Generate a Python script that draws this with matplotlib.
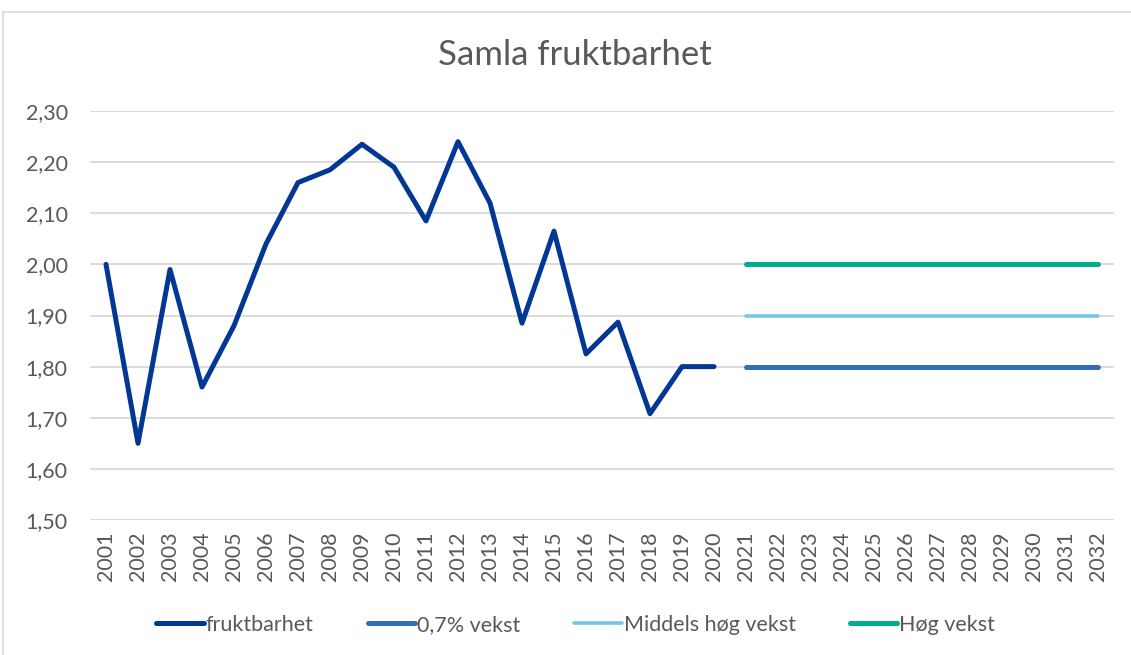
import numpy as np
import matplotlib.pyplot as plt
from matplotlib.lines import Line2D

plt.rcParams['font.family'] = ['Lato', 'DejaVu Sans']

# data
years = list(range(2001, 2033))
hist_years = list(range(2001, 2021))
fruktbarhet = [2.00, 1.65, 1.99, 1.76, 1.88, 2.04, 2.16, 2.185, 2.235, 2.19,
               2.085, 2.24, 2.12, 1.885, 2.065, 1.825, 1.887, 1.708, 1.80, 1.80]
proj_years = list(range(2021, 2033))
vekst_07 = [1.80] * 12
middels = [1.90] * 12
hoeg = [2.00] * 12

grey = '#595959'

fig = plt.figure(figsize=(11.31, 6.55), dpi=100)
ax = fig.add_axes([90 / 1131, 1 - 520 / 655, 1024 / 1131, 409 / 655])

# outer chart border (top and left visible)
fig.add_artist(Line2D([3 / 1131, 1.0], [1 - 12 / 655, 1 - 12 / 655],
                      color='#d9d9d9', lw=1.2, transform=fig.transFigure))
fig.add_artist(Line2D([3 / 1131, 3 / 1131], [0, 1 - 12 / 655],
                      color='#d9d9d9', lw=1.2, transform=fig.transFigure))

ax.plot(hist_years, fruktbarhet, color='#023894', lw=3.6,
        solid_capstyle='round', solid_joinstyle='round', label='fruktbarhet', zorder=3)
ax.plot(proj_years, vekst_07, color='#2f6eba', lw=3.6,
        solid_capstyle='round', label='0,7% vekst', zorder=3)
ax.plot(proj_years, middels, color='#75c7ea', lw=2.6,
        solid_capstyle='round', label='Middels høg vekst', zorder=3)
ax.plot(proj_years, hoeg, color='#00ac8e', lw=3.6,
        solid_capstyle='round', label='Høg vekst', zorder=3)

ax.set_xlim(2000.5, 2032.5)
ax.set_ylim(1.5, 2.3)
ax.set_yticks(np.arange(1.5, 2.31, 0.1))
ax.set_yticklabels([f'{v:.2f}'.replace('.', ',') for v in np.arange(1.5, 2.31, 0.1)])
ax.set_xticks(years)
ax.set_xticklabels([str(y) for y in years], rotation=90)
ax.tick_params(length=0, labelsize=15.5, labelcolor=grey)
ax.tick_params(axis='y', pad=16)
ax.tick_params(axis='x', pad=8)
ax.grid(axis='y', color='#d9d9d9', lw=1.3)
ax.set_axisbelow(True)
for s in ax.spines.values():
    s.set_visible(False)

fig.text(0.508, 1 - 55 / 655, 'Samla fruktbarhet', ha='center', va='center',
         fontsize=25, color=grey)

leg = fig.legend(loc='center', bbox_to_anchor=(0.509, 1 - 625 / 655), ncol=4,
                 frameon=False, fontsize=15.5, handlelength=2.2, handletextpad=0.1,
                 columnspacing=2.5, labelcolor=grey)

fig.savefig('out.png', dpi=100)
